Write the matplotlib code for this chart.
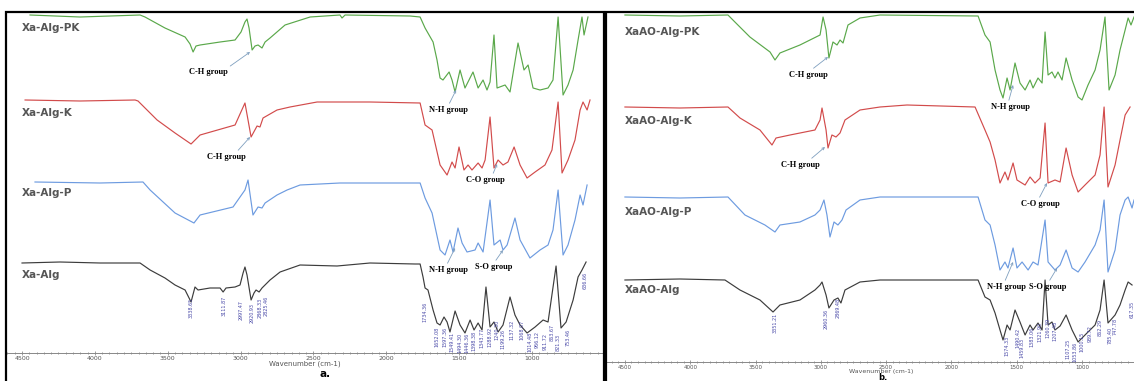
import matplotlib.pyplot as plt
from matplotlib.patches import Rectangle
from matplotlib.ticker import MultipleLocator

# FTIR traces: wavenumber (cm-1) and transmittance relative to each trace's own baseline (a.u.)
# panel a
a_pk_wn = [4445, 4102, 3690, 3656, 3519, 3381, 3347, 3326, 3306, 3278, 3141, 3038, 2997, 2970, 2956,
           2942, 2921, 2901, 2880, 2853, 2832, 2798, 2695, 2523, 2318, 2304, 2283, 1837, 1768, 1734,
           1679, 1652, 1631, 1611, 1569, 1549, 1528, 1494, 1460, 1405, 1370, 1336, 1309, 1288, 1261,
           1240, 1185, 1151, 1096, 1055, 1027, 993, 945, 890, 856, 821, 787, 753, 718, 684, 657, 643, 616]
a_pk_t = [0, -2, 0, -2, -13, -22, -29, -37, -31, -30, -27, -25, -17, -7, -4,
          -13, -35, -31, -30, -33, -27, -23, -10, -2, 0, -3, 0, -1, -2, -13,
          -27, -45, -63, -65, -57, -65, -77, -55, -73, -57, -73, -65, -75, -67, -20,
          -73, -70, -77, -28, -55, -50, -73, -75, -73, -65, -2, -80, -70, -55, -25, -2, -20, -2]

a_k_wn = [4479, 4102, 3724, 3704, 3573, 3450, 3340, 3278, 3038, 2970, 2928, 2887, 2867, 2846, 2750,
          2661, 2475, 2112, 1768, 1734, 1686, 1631, 1583, 1549, 1528, 1501, 1467, 1439, 1412, 1370,
          1343, 1322, 1288, 1261, 1233, 1199, 1165, 1123, 1082, 1034, 979, 911, 863, 821, 794,
          753, 705, 670, 650, 622, 602]
a_k_t = [0, -1, 0, -1, -20, -33, -44, -35, -25, -3, -37, -26, -27, -18, -10,
         -7, -2, -2, -3, -25, -30, -65, -75, -62, -68, -47, -70, -65, -70, -63,
         -68, -60, -17, -68, -60, -65, -62, -47, -65, -78, -72, -65, -50, -2, -73,
         -60, -40, -10, -2, -10, 0]

a_p_wn = [4411, 3965, 3670, 3621, 3450, 3320, 3278, 3052, 2970, 2949, 2915, 2880, 2853, 2832, 2750,
          2681, 2592, 2318, 2112, 1768, 1734, 1686, 1631, 1597, 1563, 1542, 1508, 1480, 1446, 1391,
          1370, 1336, 1288, 1261, 1219, 1199, 1171, 1117, 1082, 1014, 945, 890, 856, 821, 787,
          753, 705, 670, 650, 622]
a_p_t = [0, -1, 0, -8, -31, -41, -33, -25, -8, 2, -33, -25, -26, -21, -13,
         -8, -3, -1, -1, -1, -16, -31, -68, -73, -58, -70, -46, -61, -70, -68,
         -61, -70, -18, -63, -58, -68, -63, -36, -58, -76, -68, -63, -48, -8, -73,
         -63, -38, -13, -23, -3]

a_alg_wn = [4500, 4239, 3965, 3690, 3621, 3519, 3450, 3381, 3340, 3313, 3292, 3210, 3141, 3120, 3100,
            3038, 3004, 2983, 2970, 2956, 2928, 2908, 2894, 2873, 2853, 2798, 2729, 2592, 2338, 2112,
            1803, 1768, 1748, 1734, 1714, 1679, 1652, 1631, 1604, 1583, 1563, 1528, 1494, 1460, 1425,
            1398, 1370, 1343, 1316, 1288, 1261, 1233, 1199, 1151, 1117, 1082, 1034, 979, 924, 890,
            835, 801, 766, 718, 684, 657, 629]
a_alg_t = [0, 1, 0, 0, -7, -15, -22, -27, -39, -24, -27, -25, -25, -29, -25,
           -24, -22, -10, -4, -12, -37, -30, -27, -29, -25, -17, -9, -2, -3, 0,
           -1, -1, -14, -25, -27, -47, -60, -62, -54, -59, -69, -48, -62, -70, -57,
           -67, -60, -67, -24, -64, -59, -69, -62, -34, -52, -62, -70, -64, -57, -59,
           -3, -65, -59, -37, -14, -7, 1]

# panel b
b_pk_wn = [4500, 4079, 3711, 3658, 3543, 3389, 3351, 3313, 3160, 3006, 2983, 2960, 2938, 2907, 2876,
           2853, 2830, 2792, 2700, 2547, 1796, 1743, 1704, 1666, 1628, 1605, 1574, 1551, 1513, 1475,
           1436, 1398, 1375, 1337, 1306, 1283, 1260, 1230, 1207, 1184, 1153, 1122, 1076, 1030, 1000,
           954, 900, 862, 824, 793, 747, 709, 670, 647, 625, 602]
b_pk_t = [0, -1, 0, -7, -22, -37, -45, -38, -30, -20, -2, -15, -43, -27, -30,
          -25, -28, -10, -3, 0, -1, -20, -27, -55, -75, -83, -63, -75, -48, -68,
          -75, -65, -73, -63, -68, -17, -60, -57, -63, -57, -65, -43, -65, -82, -85,
          -70, -55, -35, -2, -75, -60, -35, -15, -3, -10, -2]

b_k_wn = [4500, 4079, 3711, 3619, 3466, 3374, 3343, 3236, 3045, 3006, 2991, 2960, 2945, 2915, 2884,
          2853, 2815, 2700, 2547, 2340, 1819, 1743, 1704, 1666, 1628, 1590, 1567, 1528, 1498, 1436,
          1398, 1360, 1321, 1283, 1260, 1207, 1168, 1122, 1076, 1030, 977, 900, 862, 831, 801,
          747, 709, 670, 632]
b_k_t = [0, -1, 0, -11, -23, -38, -31, -28, -23, -13, -1, -23, -41, -28, -30,
         -26, -13, -3, 0, 2, 0, -23, -35, -53, -76, -65, -73, -56, -73, -78,
         -70, -76, -71, -16, -76, -73, -75, -41, -68, -85, -78, -68, -48, 0, -80,
         -58, -33, -8, 0]

b_p_wn = [4500, 4079, 3711, 3581, 3428, 3351, 3313, 3160, 3045, 3006, 2976, 2953, 2930, 2899, 2869,
          2838, 2807, 2700, 2547, 1796, 1743, 1704, 1666, 1628, 1590, 1567, 1528, 1498, 1459, 1413,
          1375, 1337, 1283, 1260, 1207, 1168, 1122, 1076, 1030, 977, 900, 862, 831, 801, 747,
          709, 670, 647, 617, 602]
b_p_t = [0, -1, 0, -18, -28, -35, -28, -25, -18, -13, -3, -18, -40, -25, -28,
         -23, -13, -3, 0, 0, -23, -28, -48, -73, -65, -71, -51, -71, -65, -73,
         -65, -68, -23, -65, -73, -68, -53, -71, -75, -65, -48, -33, -3, -75, -53,
         -18, -3, 0, -11, -3]

b_alg_wn = [4500, 4079, 3734, 3619, 3466, 3366, 3313, 3160, 3045, 3006, 2991, 2960, 2938, 2899, 2869,
            2846, 2815, 2700, 2547, 1796, 1743, 1704, 1666, 1628, 1605, 1574, 1551, 1513, 1475, 1436,
            1398, 1375, 1337, 1306, 1283, 1260, 1230, 1207, 1168, 1122, 1076, 1030, 977, 900, 862,
            831, 801, 747, 709, 670, 647, 617]
b_alg_t = [0, 1, 0, -10, -20, -32, -25, -20, -10, -5, -2, -15, -28, -20, -18,
           -23, -10, -2, 0, 0, -17, -20, -33, -50, -60, -45, -50, -30, -42, -55,
           -45, -50, -43, -50, 0, -45, -42, -50, -46, -35, -50, -62, -55, -45, -30,
           0, -43, -35, -25, -10, -2, -5]

a_names = ["Xa-Alg-PK", "Xa-Alg-K", "Xa-Alg-P", "Xa-Alg"]
b_names = ["XaAO-Alg-PK", "XaAO-Alg-K", "XaAO-Alg-P", "XaAO-Alg"]

# peak labels written on the Alg traces
a_peaks = [3338.65, 3111.87, 2997.47, 2920.93, 2868.33, 2825.46, 1734.36, 1652.08, 1597.36, 1549.41,
           1494.30, 1446.36, 1398.38, 1343.77, 1288.92, 1240.30, 1199.26, 1137.32, 1068.07, 1014.48,
           966.12, 911.72, 863.67, 821.33, 753.46, 636.66]
b_peaks = [3351.21, 2960.36, 2869.48, 1574.33, 1490.42, 1459.83, 1383.06, 1321.90, 1260.39, 1207.48,
           1107.25, 1053.86, 1000.15, 939.72, 862.29, 785.40, 747.78, 617.35]

ticks = [4500, 4000, 3500, 3000, 2500, 2000, 1500, 1000]
colors = ["#5aa84a", "#d24b4b", "#6d9be0", "#3c3c3c"]

# ---- layout (pixels of the 1134x381 picture)
W, H = 1134, 381
fig = plt.figure(figsize=(W / 100, H / 100), dpi=100)


def px_axes(x0, x1, y_top, y_bot):
    return fig.add_axes([x0 / W, 1 - y_bot / H, (x1 - x0) / W, (y_bot - y_top) / H])


panels = [
    dict(ax=px_axes(6, 604, 12, 353), xlim=(4610, 506), ylim=(0, 341), ticksize=4.5,
         series=[(a_pk_wn, a_pk_t), (a_k_wn, a_k_t), (a_p_wn, a_p_t), (a_alg_wn, a_alg_t)],
         offsets=[338, 253, 171, 90], names=a_names, name_y=[325, 240, 160, 78],
         peaks=a_peaks,
         peak_y=[45, 47, 43, 40, 45, 47, 41, 16, 16, 11, 10, 10, 12, 15, 16, 23, 14, 23, 23, 11,
                 13, 11, 21, 11, 16, 73],
         notes=[("C-H group", 3223, 281, 2935, 301, 1.0),
                ("C-H group", 3100, 196, 2935, 216, 0.75),
                ("N-H group", 1576, 243, 1521, 263, 0.5),
                ("C-O group", 1322, 173, 1240, 189, 0.68),
                ("N-H group", 1576, 83, 1528, 105, 0.45),
                ("S-O group", 1261, 86, 1199, 103, 0.5)]),
    dict(ax=px_axes(606, 1134, 12, 362), xlim=(4645, 602), ylim=(0, 350), ticksize=4,
         series=[(b_pk_wn, b_pk_t), (b_k_wn, b_k_t), (b_p_wn, b_p_t), (b_alg_wn, b_alg_t)],
         offsets=[347, 255, 165, 82], names=b_names, name_y=[330, 241, 150, 72],
         peaks=b_peaks,
         peak_y=[39, 43, 54, 16, 24, 14, 25, 30, 34, 31, 13, 10, 20, 28, 34, 27, 36, 53],
         notes=[("C-H group", 3098, 287, 2945, 305, 0.55),
                ("C-H group", 3160, 197, 2968, 215, 0.72),
                ("N-H group", 1551, 255, 1528, 277, 0.45),
                ("C-O group", 1321, 158, 1268, 179, 0.45),
                ("N-H group", 1582, 75, 1528, 100, 0.45),
                ("S-O group", 1260, 75, 1191, 94, 0.5)]),
]

for p in panels:
    ax = p["ax"]
    for (wn, t), off, c in zip(p["series"], p["offsets"], colors):
        ax.plot(wn, [v + off for v in t], color=c, lw=0.85)
    for name, y in zip(p["names"], p["name_y"]):
        ax.text(4500, y, name, fontsize=7.5, fontweight="bold", color="#555555",
                ha="left", va="center")
    for wn, y in zip(p["peaks"], p["peak_y"]):
        ax.text(wn, y, f"{wn:.2f}", rotation=90, fontsize=3.5, color="#4a4aa8",
                ha="center", va="center")
    for txt, tx, ty, hx, hy, rel in p["notes"]:
        ax.annotate(txt, xy=(hx, hy), xytext=(tx, ty), ha="center", va="center",
                    fontsize=6, fontweight="bold", family="Liberation Serif",
                    arrowprops=dict(arrowstyle="->", color="#7f9fbf", lw=0.6,
                                    shrinkA=0, shrinkB=0, relpos=(rel, 1.0),
                                    mutation_scale=4))
    ax.set_xlim(*p["xlim"])
    ax.set_ylim(*p["ylim"])
    for s in ("top", "left", "right"):
        ax.spines[s].set_visible(False)
    ax.spines["bottom"].set_color("#888888")
    ax.spines["bottom"].set_linewidth(0.7)
    ax.set_yticks([])
    ax.set_xticks(ticks)
    ax.set_xticklabels([str(t) for t in ticks])
    ax.xaxis.set_minor_locator(MultipleLocator(50))
    ax.tick_params(axis="x", which="both", direction="inout", colors="#777777",
                   labelcolor="#555555", labelsize=p["ticksize"], pad=0.5, width=0.5)
    ax.tick_params(axis="x", which="major", length=3)
    ax.tick_params(axis="x", which="minor", length=2)
    ax.patch.set_alpha(0)

# panel frames
for x0, x1 in [(6, 604), (606, 1140)]:
    fig.add_artist(Rectangle((x0 / W, -0.1), (x1 - x0) / W, 1.1 - 12 / H,
                             transform=fig.transFigure, fill=False,
                             edgecolor="black", lw=1.6))

fig.text(305 / W, 1 - 364 / H, "Wavenumber (cm-1)", ha="center", va="center",
         fontsize=5, color="#555555")
fig.text(881 / W, 1 - 371 / H, "Wavenumber (cm-1)", ha="center", va="center",
         fontsize=4.5, color="#555555")
fig.text(325 / W, 1 - 374 / H, "a.", ha="center", va="center", fontsize=7.5,
         fontweight="bold")
fig.text(883 / W, 1 - 377 / H, "b.", ha="center", va="center", fontsize=6,
         fontweight="bold")

fig.savefig("out.png", dpi=100)
